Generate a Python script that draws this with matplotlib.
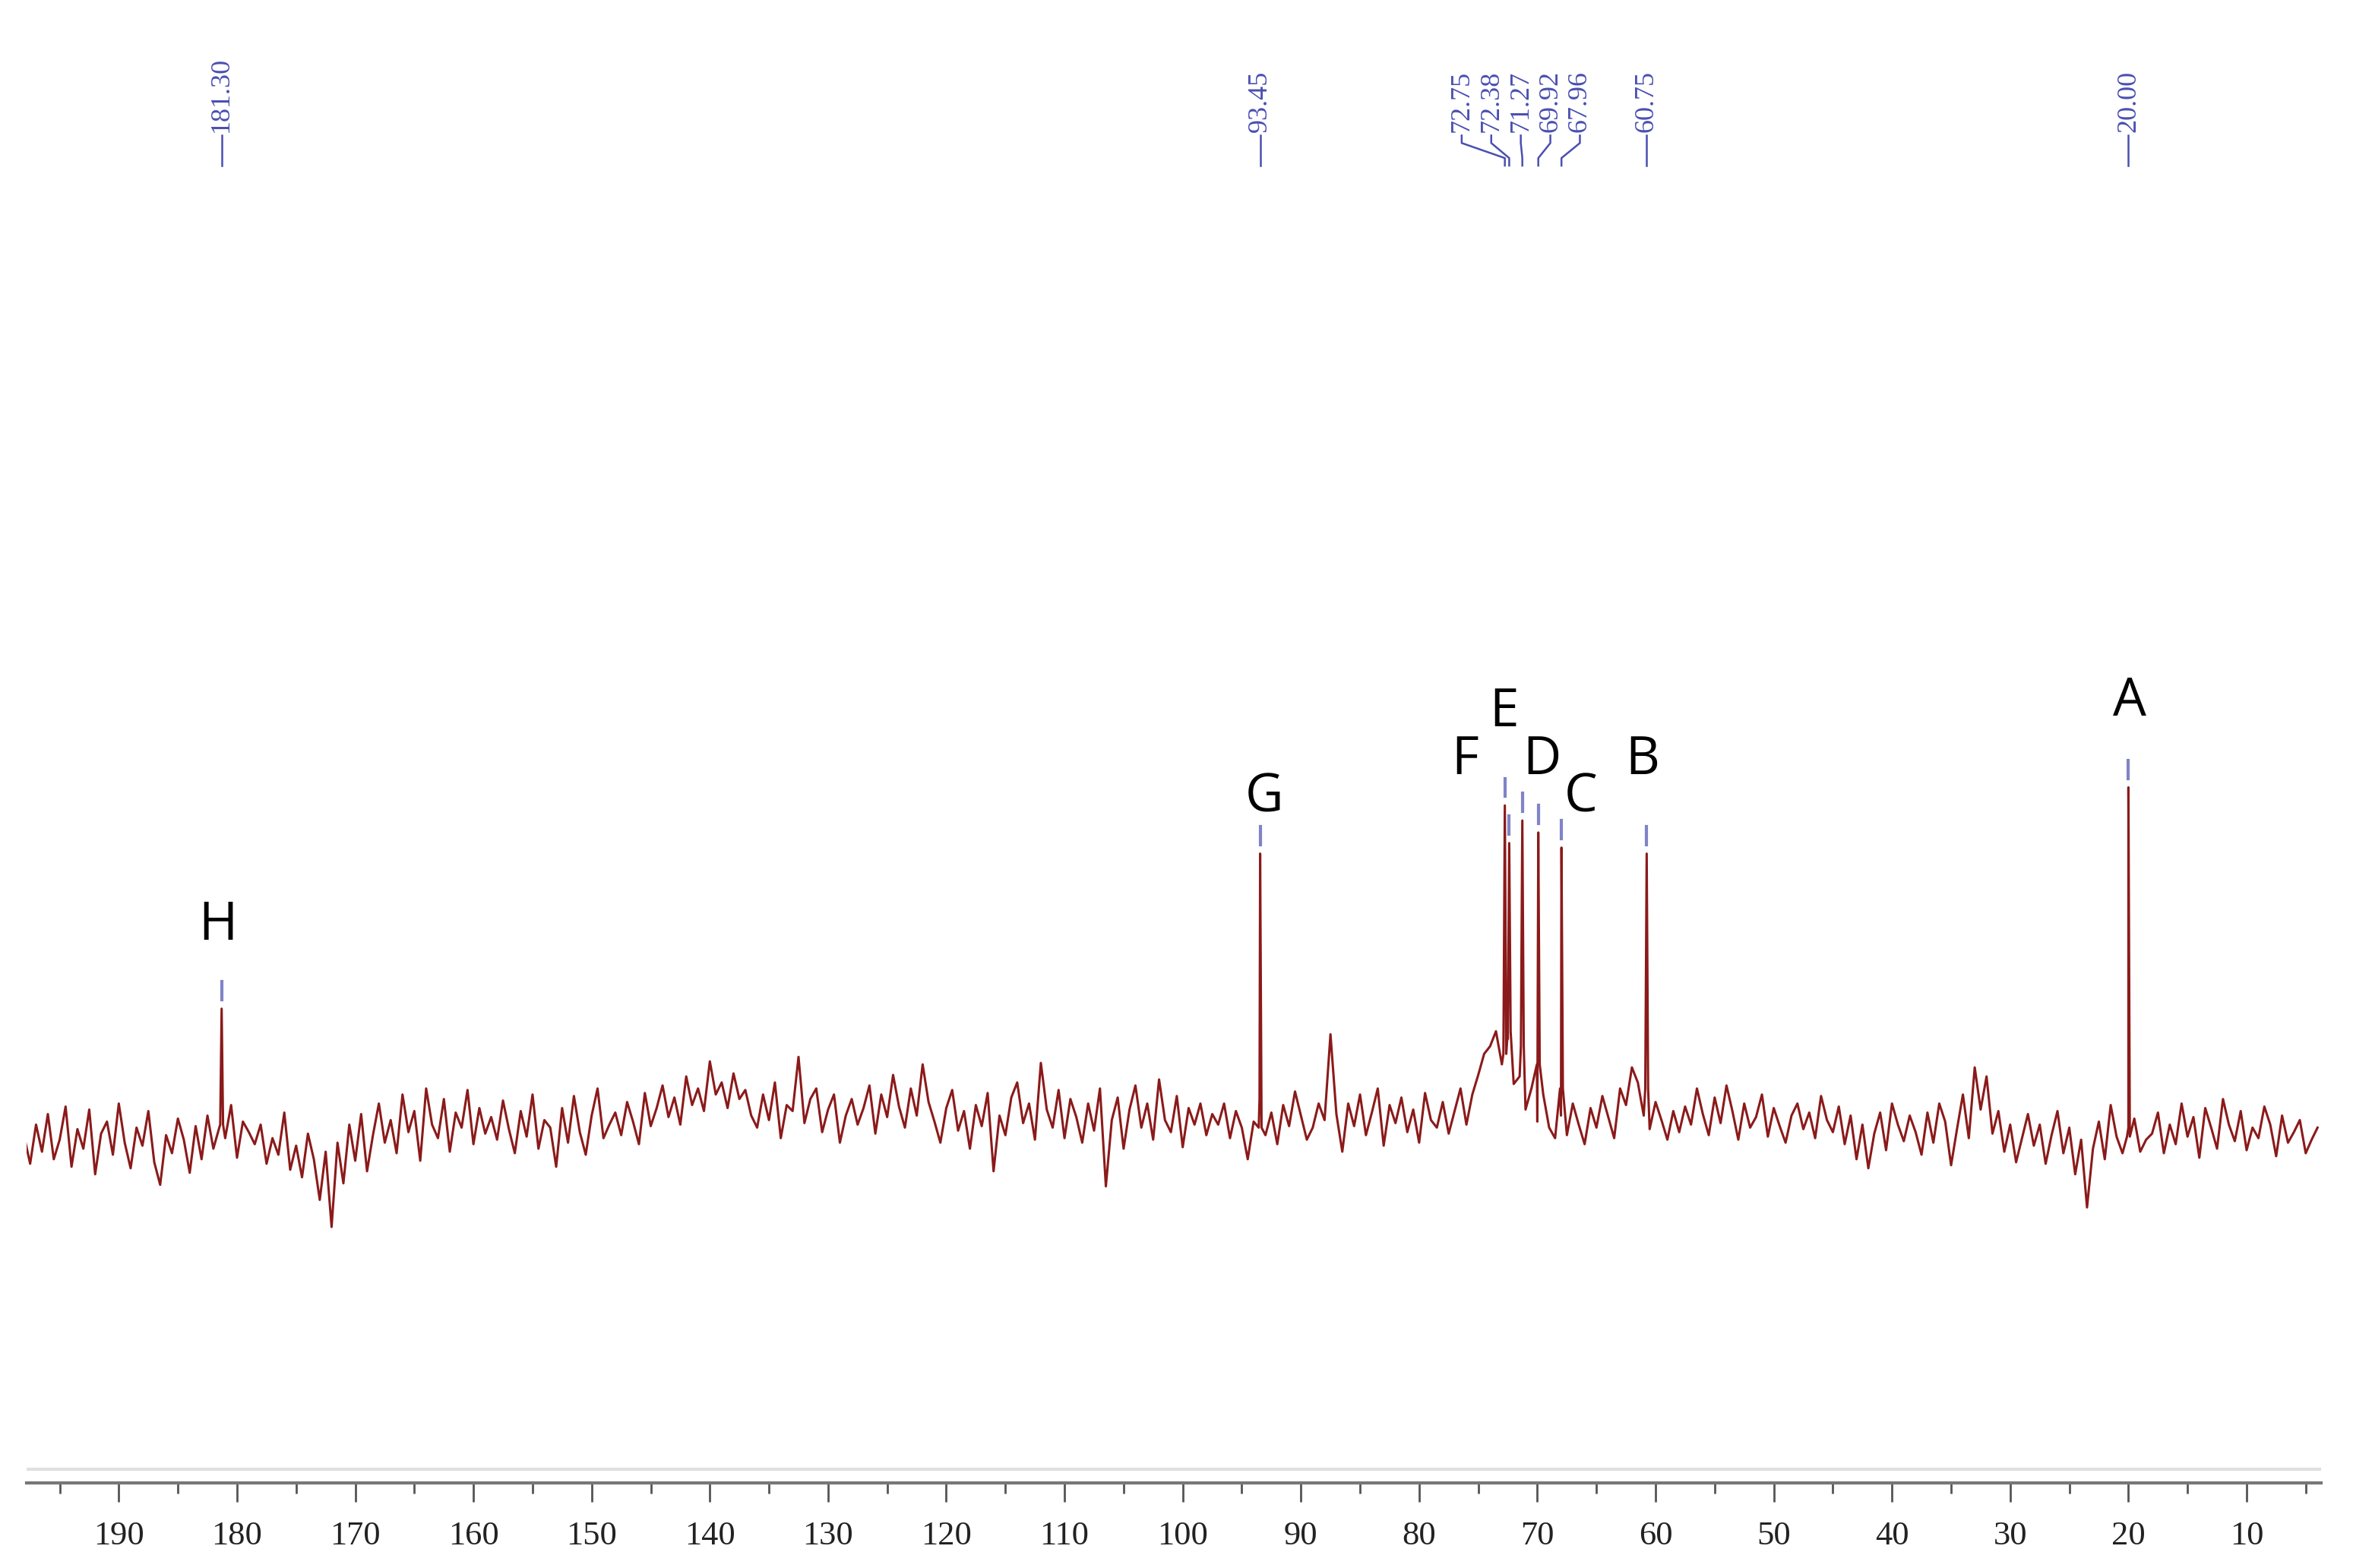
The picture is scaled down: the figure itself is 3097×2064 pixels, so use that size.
"""13C NMR spectrum with labelled peaks A-H."""
import numpy as np
import matplotlib.pyplot as plt
from matplotlib.ticker import MultipleLocator

# baseline samples, every 0.5 ppm from 198.0 down to 4.0
BASE_START = 198.0
BASE_STEP = 0.5
baseline = [
    230, 212, 238, 220, 245, 215, 228, 250, 210, 235, 222, 248, 205, 232, 240, 218, 252, 226, 209, 236,
    224, 247, 213, 198, 231, 219, 242, 228, 206, 237, 215, 244, 222, 236, 229, 251, 216, 240, 233, 225,
    238, 212, 229, 218, 246, 208, 224, 203, 232, 215, 188, 220, 170, 226, 199, 238, 214, 245, 207, 231,
    252, 226, 241, 219, 258, 233, 247, 214, 262, 238, 229, 255, 220, 246, 236, 261, 225, 249, 232, 243,
    228, 254, 235, 219, 247, 230, 258, 222, 241, 236, 210, 249, 226, 257, 233, 218, 244, 262, 229, 238,
    246, 231, 253, 240, 225, 259, 237, 249, 264, 243, 256, 238, 270, 251, 262, 247, 280, 258, 266, 249,
    272, 255, 261, 244, 236, 258, 241, 266, 229, 251, 247, 283, 239, 255, 262, 233, 248, 258, 226, 244,
    255, 238, 249, 264, 232, 258, 243, 271, 250, 236, 262, 244, 278, 253, 240, 226, 249, 261, 234, 247,
    222, 251, 237, 259, 207, 244, 231, 256, 266, 239, 252, 228, 279, 248, 236, 261, 229, 255, 243, 226,
    252, 234, 262, 197, 241, 256, 222, 248, 264, 236, 252, 228, 268, 241, 233, 257, 223, 249, 238, 252,
    231, 245, 238, 252, 229, 247, 236, 215, 240, 255, 231, 246, 225, 251, 237, 260, 244, 228, 236, 252,
    241, 298, 245, 220, 252, 237, 258, 231, 246, 262, 224, 251, 239, 256, 233, 248, 226, 259, 241, 236,
    253, 232, 247, 262, 238, 258, 271, 285, 290, 300, 278, 295, 265, 270, 248, 262, 240, 258, 236, 229,
    244, 231, 252, 238, 225, 249, 236, 257, 243, 229, 262, 251, 276, 266, 244, 235, 253, 241, 228, 247,
    233, 250, 238, 262, 245, 231, 256, 239, 264, 247, 228, 252, 236, 243, 258, 230, 249, 237, 226, 244,
    252, 235, 246, 229, 257, 241, 233, 250, 225, 244, 215, 238, 209, 232, 246, 221, 252, 238, 227, 244,
    233, 218, 246, 226, 252, 240, 211, 235, 258, 229, 276, 248, 270, 232, 247, 220, 238, 213, 229, 245,
    224, 238, 212, 231, 247, 219, 236, 205, 228, 183, 222, 240, 215, 251, 230, 219, 236, 242, 220, 228,
    232, 246, 219, 238, 225, 252, 230, 243, 216, 249, 236, 222, 255, 238, 227, 247, 221, 236, 229, 250,
    238, 217, 244, 226, 233, 241, 219, 228, 236,
]

# peaks
peak_ppm = [181.30, 93.45, 72.75, 72.38, 71.27, 69.92, 67.96, 60.75, 20.00]
peak_height = [315, 418, 450, 425, 440, 432, 422, 418, 462]
peak_foot = [238, 236, 285, 300, 290, 278, 262, 262, 230]

# letter labels (text, ppm position, height)
letters = ["H", "G", "F", "E", "D", "C", "B", "A"]
letter_ppm = [181.6, 93.1, 76.1, 72.8, 69.6, 66.3, 61.1, 19.9]
letter_y = [352, 437, 462, 494, 462, 437, 462, 501]

# top chemical-shift labels and where each label sits
shift_text = ["181.30", "93.45", "72.75", "72.38", "71.27", "69.92", "67.96", "60.75", "20.00"]
shift_label_ppm = [181.30, 93.45, 76.4, 73.9, 71.4, 68.9, 66.4, 60.75, 20.00]

RED = "#8b1a1a"
BLUE = "#4a4fb0"


def build_spectrum():
    ppm = list(BASE_START - BASE_STEP * np.arange(len(baseline)))
    val = list(baseline)
    for p, h, f in zip(peak_ppm, peak_height, peak_foot):
        ppm += [p + 0.12, p, p - 0.12]
        val += [f, h, f]
    order = np.argsort(ppm)[::-1]
    return np.array(ppm)[order], np.array(val)[order]


def main():
    fig = plt.figure(figsize=(30.97, 20.64), dpi=100)
    ax = fig.add_axes([35 / 3097, 112 / 2064, 3020 / 3097, 1952 / 2064])

    x, y = build_spectrum()
    ax.plot(x, y, color=RED, lw=2.2)

    ax.set_xlim(197.8, 3.7)
    ax.set_ylim(0, 985)

    # blue peak markers
    for p, h in zip(peak_ppm, peak_height):
        ax.plot([p, p], [h + 6, h + 18], color=BLUE, lw=3, alpha=0.7)

    for t, p, yy in zip(letters, letter_ppm, letter_y):
        ax.text(p, yy, t, fontsize=50, ha="center", va="bottom", family="Open Sans")

    # chemical shift labels at the top
    for t, lp, pp in zip(shift_text, shift_label_ppm, peak_ppm):
        ax.text(lp, 897, t, rotation=90, ha="center", va="bottom", color=BLUE,
                fontsize=26, family="Liberation Serif")
        if abs(lp - pp) < 0.01:
            ax.plot([pp, pp], [875, 895], color=BLUE, lw=1.8)
        else:
            ax.plot([lp, lp, pp, pp], [895, 890, 880, 875], color=BLUE, lw=1.8)

    for s in ["left", "right", "top"]:
        ax.spines[s].set_visible(False)
    ax.spines["bottom"].set_color("#777777")
    ax.spines["bottom"].set_linewidth(3)
    ax.axhline(9, color="#e0e0e0", lw=3)
    ax.set_yticks([])
    ax.xaxis.set_major_locator(MultipleLocator(10))
    ax.xaxis.set_minor_locator(MultipleLocator(5))
    ax.tick_params(axis="x", which="major", length=18, width=2, color="#555555",
                   labelsize=32, pad=18)
    ax.tick_params(axis="x", which="minor", length=10, width=2, color="#555555")
    ax.set_xticks(range(190, 9, -10))
    for lab in ax.get_xticklabels():
        lab.set_family("Liberation Serif")
        lab.set_color("#222222")

    fig.savefig("out.png", dpi=100)


if __name__ == "__main__":
    main()
